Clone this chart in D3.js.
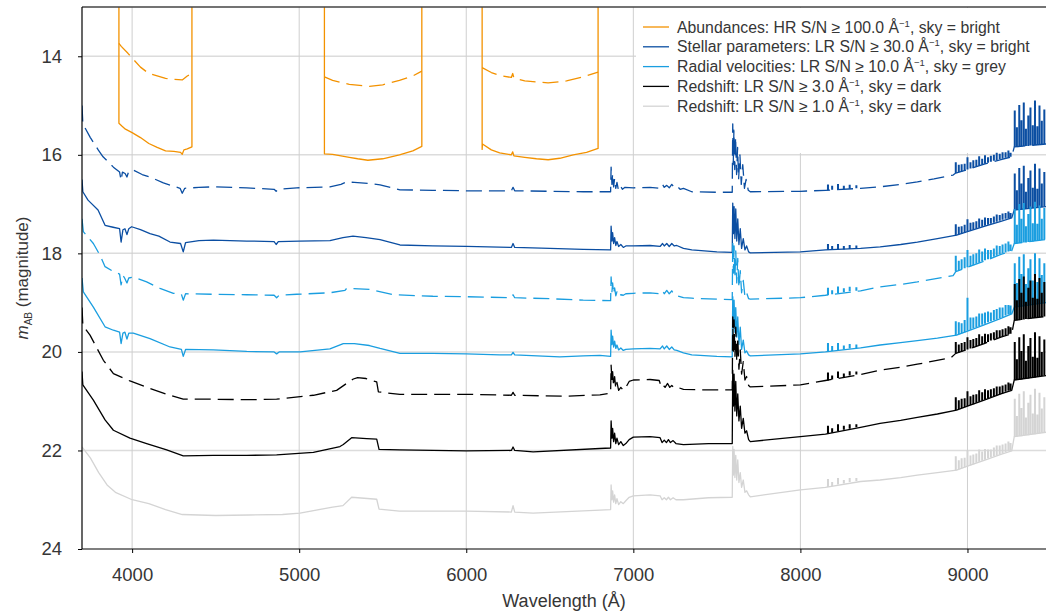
<!DOCTYPE html>
<html>
<head>
<meta charset="utf-8">
<script src="https://cdn.jsdelivr.net/npm/d3@7"></script>
<style>
  html, body { margin: 0; padding: 0; background: #fff; }
  svg { display: block; font-family: "Liberation Sans", Arial, sans-serif; }
</style>
</head>
<body>
<svg id="chart" width="1046" height="611"></svg>
<script>
// ---------------- DATA ----------------
const xTicks = [4000, 5000, 6000, 7000, 8000, 9000];
const yTicks = [14, 16, 18, 20, 22, 24];

const legendLabels = [
  ["Abundances: HR S/N \u2265 100.0 \u00C5", ", sky = bright"],
  ["Stellar parameters: LR S/N \u2265 30.0 \u00C5", ", sky = bright"],
  ["Radial velocities: LR S/N \u2265 10.0 \u00C5", ", sky = grey"],
  ["Redshift: LR S/N \u2265 3.0 \u00C5", ", sky = dark"],
  ["Redshift: LR S/N \u2265 1.0 \u00C5", ", sky = dark"]
];
const legendColors = ["#f39200", "#0b4ea2", "#1a9ee0", "#000000", "#d4d4d4"];

// Abundances (orange) – solid, three HR windows
const abundSolid = [
  [3921,12],[3921,15.36],[3940,15.42],[3960,15.48],[4000,15.55],[4050,15.65],[4100,15.77],[4150,15.85],[4200,15.92],[4250,15.93],[4290,15.95],[4300,15.99],[4310,15.9],[4330,15.88],[4358,15.84],[4358,12],
  null,
  [5151,12],[5151,15.98],[5200,15.99],[5250,16.02],[5300,16.05],[5350,16.08],[5411,16.11],[5500,16.08],[5600,16.0],[5680,15.92],[5734,15.83],[5734,12],
  null,
  [6095,12],[6095,15.89],[6097,15.78],[6150,15.9],[6200,15.96],[6270,16.0],[6278,15.94],[6285,16.02],[6350,16.05],[6420,16.08],[6490,16.1],[6560,16.07],[6640,16.0],[6720,15.95],[6789,15.87],[6789,12]
];
// Abundances (orange) – dashed
const abundDashed = [
  [3921,13.74],[3935,13.8],[3975,13.94],[4050,14.22],[4100,14.35],[4200,14.45],[4250,14.47],[4300,14.48],[4330,14.4],[4358,14.35],
  null,
  [5151,14.42],[5200,14.49],[5300,14.57],[5420,14.61],[5500,14.58],[5600,14.49],[5680,14.4],[5734,14.3],
  null,
  [6095,14.23],[6150,14.33],[6200,14.39],[6270,14.43],[6278,14.35],[6285,14.44],[6350,14.5],[6490,14.54],[6600,14.5],[6700,14.42],[6789,14.32]
];

// Stellar parameters (dark blue) – dashed: continuum, and sky-line spikes [wavelength, continuum, peak]
const stellarDashed = [
  [3700,15.0],[3705,15.37],[3750,15.65],[3797,15.9],[3826,16.04],[3888,16.25],[3925,16.35],[3934,16.52],[3942,16.35],[3958,16.38],[3969,16.45],[3980,16.33],[4007,16.31],[4060,16.4],[4107,16.45],[4187,16.57],[4287,16.68],[4300,16.78],[4315,16.68],[4400,16.66],[4486,16.65],[4686,16.67],[4850,16.7],[4862,16.74],[4875,16.7],[4985,16.67],[5184,16.65],[5250,16.6],[5284,16.55],[5330,16.56],[5420,16.58],[5484,16.61],[5603,16.71],[5800,16.72],[6000,16.73],[6270,16.73],[6280,16.66],[6290,16.73],[6500,16.74],[6700,16.75],[6864,16.75],
  [6867,16.25],[6872,16.6],[6876,16.38],[6882,16.65],[6888,16.48],[6895,16.68],[6902,16.56],[6910,16.7],[6920,16.62],[6935,16.7],[6950,16.66],[7000,16.67],[7100,16.66],[7160,16.68],[7175,16.6],[7185,16.66],[7200,16.62],[7215,16.67],[7230,16.6],[7245,16.66],[7260,16.63],[7280,16.7],[7300,16.68],[7350,16.75],[7500,16.76],[7592,16.76],
  [7595,15.37],[7598,16.2],[7602,15.5],[7607,16.3],[7612,15.64],[7618,16.4],[7624,15.85],[7630,16.5],[7638,16.0],[7646,16.6],[7655,16.2],[7665,16.68],[7675,16.5],[7688,16.72],[7700,16.75],[8000,16.74],[8150,16.72],
  [8360,16.68],[8477,16.65],[8600,16.6],[8700,16.55],[8800,16.49],[8914,16.41],[8930,16.37],[9000,16.3],[9100,16.19],[9200,16.1],[9265,16.04],[9280,15.84],[9470,15.78]
];
const stellarDashedSpikes = [
  [8165,16.72,16.6],[8190,16.71,16.63],[8225,16.7,16.59],[8260,16.7,16.63],[8295,16.69,16.61],[8335,16.68,16.62],
  [8930,16.37,16.15],[8948,16.35,16.2],[8965,16.34,16.19],[8983,16.32,16.18],[9000,16.3,16.05],[9018,16.28,16.15],[9035,16.26,16.11],[9053,16.24,16.1],[9070,16.22,16.03],[9088,16.2,16.08],[9105,16.18,16.01],[9123,16.16,16.05],[9140,16.14,16.02],[9158,16.12,16.0],[9175,16.11,15.96],[9193,16.09,15.98],[9210,16.08,15.95],[9228,16.06,15.95],[9245,16.05,15.91],[9258,16.04,15.96],
  [9283,15.84,15.1],[9296,15.84,15.44],[9310,15.83,14.99],[9323,15.83,15.3],[9337,15.82,14.94],[9350,15.82,15.47],[9364,15.82,15.2],[9377,15.81,15.04],[9391,15.81,15.4],[9404,15.8,14.9],[9418,15.8,15.42],[9431,15.79,15.0],[9445,15.79,15.31],[9460,15.78,15.08]
];
// Stellar parameters (dark blue) – solid
const stellarSolid = [
  [3700,16.5],[3705,16.75],[3736,16.92],[3796,17.12],[3838,17.43],[3886,17.47],[3925,17.5],[3934,17.77],[3945,17.52],[3957,17.5],[3969,17.62],[3980,17.5],[3997,17.46],[4050,17.52],[4107,17.6],[4160,17.65],[4227,17.77],[4290,17.8],[4306,17.97],[4320,17.78],[4400,17.74],[4486,17.73],[4686,17.75],[4850,17.76],[4862,17.82],[4875,17.76],[5000,17.75],[5184,17.74],[5262,17.68],[5322,17.65],[5400,17.68],[5484,17.72],[5603,17.83],[5800,17.85],[6000,17.86],[6270,17.88],[6280,17.8],[6290,17.88],[6500,17.9],[6700,17.92],[6864,17.93],
  [6867,17.45],[6872,17.75],[6876,17.58],[6882,17.8],[6888,17.68],[6895,17.84],[6902,17.76],[6912,17.86],[6925,17.82],[6940,17.88],[6955,17.85],[7000,17.85],[7100,17.84],[7160,17.86],[7175,17.8],[7185,17.85],[7200,17.8],[7215,17.86],[7230,17.8],[7245,17.85],[7260,17.84],[7300,17.9],[7350,17.93],[7500,17.97],[7592,17.98],
  [7595,16.98],[7599,17.6],[7603,17.05],[7608,17.7],[7613,17.1],[7619,17.75],[7625,17.3],[7632,17.82],[7640,17.5],[7648,17.9],[7658,17.7],[7668,17.93],[7678,17.85],[7690,17.97],[7700,17.99],[8000,17.97],[8150,17.93],
  [8360,17.9],[8477,17.87],[8600,17.82],[8700,17.77],[8820,17.7],[8935,17.63],[9000,17.56],[9100,17.45],[9200,17.35],[9265,17.28],[9280,17.12],[9470,17.05]
];
const stellarSolidSpikes = [
  [8165,17.93,17.81],[8190,17.93,17.85],[8225,17.92,17.81],[8260,17.92,17.85],[8295,17.91,17.83],[8335,17.9,17.84],
  [8930,17.63,17.41],[8948,17.61,17.46],[8965,17.6,17.45],[8983,17.58,17.42],[9000,17.56,17.31],[9018,17.54,17.38],[9035,17.52,17.37],[9053,17.5,17.35],[9070,17.48,17.29],[9088,17.46,17.32],[9105,17.44,17.27],[9123,17.42,17.28],[9140,17.4,17.28],[9158,17.38,17.25],[9175,17.36,17.21],[9193,17.34,17.22],[9210,17.32,17.19],[9228,17.3,17.18],[9245,17.29,17.15],[9258,17.28,17.18],
  [9283,17.12,16.38],[9296,17.12,16.72],[9310,17.11,16.27],[9323,17.11,16.58],[9337,17.1,16.22],[9350,17.1,16.75],[9364,17.09,16.47],[9377,17.09,16.32],[9391,17.08,16.67],[9404,17.08,16.18],[9418,17.07,16.69],[9431,17.07,16.28],[9445,17.06,16.58],[9460,17.05,16.35]
];
// Radial velocities (light blue) – dashed
const radialDashed = [
  [3700,17.3],[3708,17.56],[3768,17.8],[3808,18.04],[3838,18.27],[3888,18.37],[3925,18.42],[3934,18.64],[3945,18.45],[3955,18.5],[3969,18.6],[3980,18.5],[4007,18.48],[4087,18.58],[4167,18.71],[4247,18.81],[4295,18.83],[4306,18.95],[4320,18.82],[4486,18.83],[4686,18.84],[4850,18.85],[4865,18.9],[4880,18.85],[4985,18.83],[5184,18.8],[5274,18.75],[5284,18.71],[5424,18.73],[5564,18.84],[5800,18.87],[6000,18.88],[6270,18.9],[6280,18.84],[6290,18.9],[6500,18.92],[6700,18.95],[6864,18.96],
  [6867,18.48],[6872,18.78],[6876,18.6],[6882,18.82],[6888,18.7],[6895,18.86],[6902,18.78],[6912,18.88],[6925,18.84],[6940,18.85],[6955,18.82],[7000,18.81],[7100,18.8],[7160,18.82],[7175,18.76],[7185,18.82],[7200,18.75],[7215,18.82],[7230,18.76],[7245,18.84],[7260,18.86],[7300,18.9],[7350,18.91],[7500,18.93],[7592,18.94],
  [7595,17.75],[7599,18.4],[7603,17.85],[7608,18.5],[7613,17.95],[7619,18.6],[7625,18.1],[7632,18.7],[7640,18.35],[7648,18.8],[7658,18.55],[7668,18.88],[7678,18.8],[7690,18.92],[7700,18.93],[8000,18.9],[8150,18.85],
  [8360,18.76],[8477,18.68],[8600,18.63],[8700,18.58],[8914,18.45],[8930,18.37],[9000,18.28],[9100,18.16],[9200,18.02],[9265,17.95],[9280,17.8],[9470,17.72]
];
const radialDashedSpikes = [
  [8165,18.85,18.7],[8190,18.83,18.75],[8225,18.81,18.67],[8260,18.79,18.71],[8295,18.77,18.68],[8335,18.76,18.69],
  [8930,18.37,18.05],[8948,18.35,18.15],[8965,18.33,18.12],[8983,18.3,18.08],[9000,18.28,17.93],[9018,18.26,18.05],[9035,18.24,18.02],[9053,18.21,18.0],[9070,18.19,17.92],[9088,18.16,17.96],[9105,18.14,17.9],[9123,18.12,17.93],[9140,18.1,17.93],[9158,18.07,17.9],[9175,18.05,17.84],[9193,18.02,17.85],[9210,18.0,17.82],[9228,17.98,17.8],[9245,17.96,17.76],[9258,17.95,17.82],
  [9283,17.8,17.1],[9296,17.8,17.42],[9310,17.79,17.0],[9323,17.79,17.3],[9337,17.78,16.98],[9350,17.78,17.45],[9364,17.77,17.2],[9377,17.76,17.05],[9391,17.76,17.39],[9404,17.75,16.95],[9418,17.74,17.4],[9431,17.74,17.03],[9445,17.73,17.3],[9460,17.72,17.08]
];
// Radial velocities (light blue) – solid
const radialSolid = [
  [3700,18.5],[3708,18.78],[3768,19.09],[3838,19.49],[3888,19.56],[3925,19.6],[3934,19.83],[3945,19.62],[3957,19.6],[3969,19.74],[3980,19.62],[4007,19.62],[4107,19.73],[4227,19.9],[4295,19.95],[4306,20.09],[4320,19.95],[4486,19.96],[4686,19.99],[4850,20.0],[4865,20.04],[4880,20.0],[5005,20.0],[5184,19.94],[5264,19.83],[5330,19.83],[5420,19.87],[5484,19.93],[5603,20.03],[5800,20.03],[6000,20.04],[6200,20.06],[6270,20.06],[6280,20.01],[6290,20.06],[6560,20.1],[6700,20.08],[6800,20.07],[6864,20.09],
  [6867,19.56],[6872,19.85],[6876,19.68],[6882,19.9],[6888,19.78],[6895,19.93],[6902,19.86],[6912,19.96],[6925,19.92],[6940,19.97],[6955,19.95],[7000,19.94],[7100,19.93],[7160,19.94],[7175,19.88],[7185,19.94],[7200,19.88],[7215,19.95],[7230,19.9],[7245,19.96],[7260,19.97],[7300,20.02],[7350,20.06],[7500,20.09],[7592,20.1],
  [7595,18.88],[7599,19.5],[7603,18.95],[7608,19.6],[7613,19.1],[7619,19.7],[7625,19.29],[7632,19.85],[7640,19.5],[7648,19.95],[7658,19.76],[7668,20.02],[7678,19.98],[7690,20.06],[7700,20.08],[8000,20.04],[8150,20.0],
  [8360,19.92],[8477,19.86],[8600,19.81],[8700,19.77],[8820,19.72],[8935,19.66],[9000,19.58],[9100,19.45],[9200,19.32],[9265,19.23],[9280,19.09],[9470,19.0]
];
const radialSolidSpikes = [
  [8165,20.0,19.82],[8190,19.98,19.88],[8225,19.97,19.82],[8260,19.95,19.87],[8295,19.93,19.84],[8335,19.92,19.85],
  [8930,19.66,19.38],[8948,19.64,19.4],[8965,19.62,19.42],[8983,19.6,19.35],[9000,19.57,18.9],[9018,19.55,19.3],[9035,19.52,19.3],[9053,19.5,19.28],[9070,19.48,19.22],[9088,19.45,19.22],[9105,19.43,19.2],[9123,19.4,19.18],[9140,19.38,19.2],[9158,19.36,19.15],[9175,19.34,19.13],[9193,19.31,19.1],[9210,19.29,19.1],[9228,19.26,19.05],[9245,19.24,19.05],[9258,19.23,19.06],
  [9283,19.09,18.2],[9296,19.09,18.6],[9310,19.08,18.07],[9323,19.08,18.42],[9337,19.07,18.02],[9350,19.06,18.62],[9364,19.06,18.3],[9377,19.05,18.12],[9391,19.04,18.55],[9404,19.04,18.0],[9418,19.03,18.58],[9431,19.02,18.1],[9445,19.01,18.44],[9460,19.0,18.2]
];
// Redshift S/N 3 (black) – dashed
const z3Dashed = [
  [3700,19.1],[3705,19.46],[3748,19.66],[3828,20.17],[3888,20.44],[3987,20.59],[4107,20.74],[4207,20.86],[4306,20.96],[4486,20.96],[4686,20.97],[4865,20.96],[5085,20.88],[5224,20.78],[5284,20.64],[5324,20.55],[5350,20.52],[5400,20.54],[5464,20.61],[5474,20.81],[5520,20.83],[5603,20.86],[6003,20.86],[6270,20.88],[6280,20.82],[6290,20.88],[6600,20.9],[6800,20.87],[6864,20.84],
  [6867,20.27],[6872,20.6],[6876,20.4],[6882,20.7],[6888,20.5],[6895,20.75],[6902,20.62],[6912,20.78],[6925,20.72],[6940,20.78],[6955,20.72],[6975,20.6],[7000,20.57],[7100,20.56],[7155,20.58],[7168,20.72],[7180,20.68],[7190,20.72],[7205,20.64],[7218,20.72],[7230,20.68],[7245,20.73],[7265,20.72],[7300,20.76],[7400,20.77],[7592,20.77],
  [7595,19.29],[7599,20.0],[7603,19.35],[7608,20.1],[7613,19.5],[7619,20.2],[7625,19.7],[7632,20.35],[7640,19.96],[7648,20.45],[7658,20.2],[7668,20.57],[7678,20.5],[7690,20.68],[7700,20.71],[8000,20.67],[8150,20.58],
  [8360,20.46],[8477,20.37],[8600,20.31],[8700,20.25],[8900,20.12],[8930,20.03],[9000,19.95],[9100,19.83],[9200,19.7],[9265,19.63],[9280,19.36],[9470,19.28]
];
const z3DashedSpikes = [
  [8165,20.58,20.42],[8190,20.56,20.48],[8225,20.53,20.4],[8260,20.51,20.44],[8295,20.48,20.39],[8335,20.46,20.4],
  [8930,20.03,19.8],[8948,20.01,19.85],[8965,19.99,19.82],[8983,19.97,19.8],[9000,19.95,19.7],[9018,19.93,19.76],[9035,19.91,19.74],[9053,19.88,19.72],[9070,19.86,19.64],[9088,19.84,19.68],[9105,19.82,19.63],[9123,19.8,19.64],[9140,19.77,19.62],[9158,19.75,19.6],[9175,19.73,19.56],[9193,19.71,19.56],[9210,19.69,19.54],[9228,19.66,19.52],[9245,19.64,19.48],[9258,19.63,19.5],
  [9283,19.36,18.62],[9296,19.36,18.95],[9310,19.35,18.52],[9323,19.35,18.8],[9337,19.34,18.47],[9350,19.33,18.98],[9364,19.33,18.7],[9377,19.32,18.55],[9391,19.31,18.9],[9404,19.31,18.42],[9418,19.3,18.92],[9431,19.29,18.5],[9445,19.29,18.8],[9460,19.28,18.58]
];
// Redshift S/N 3 (black) – solid
const z3Solid = [
  [3700,20.4],[3705,20.67],[3768,20.98],[3838,21.38],[3888,21.59],[3987,21.75],[4087,21.86],[4207,21.99],[4306,22.11],[4486,22.1],[4686,22.1],[4865,22.09],[5085,22.04],[5244,21.92],[5264,21.88],[5314,21.74],[5404,21.76],[5464,21.77],[5478,21.98],[5603,21.99],[6000,22.01],[6270,22.0],[6280,21.93],[6290,22.0],[6400,22.03],[6800,21.96],[6864,21.95],
  [6867,21.4],[6872,21.75],[6876,21.55],[6882,21.82],[6888,21.65],[6895,21.86],[6902,21.75],[6912,21.88],[6925,21.82],[6940,21.9],[6955,21.86],[6975,21.78],[7000,21.73],[7100,21.72],[7160,21.74],[7172,21.84],[7185,21.79],[7198,21.84],[7210,21.78],[7222,21.84],[7238,21.8],[7255,21.86],[7300,21.88],[7450,21.86],[7592,21.86],
  [7595,20.37],[7599,21.1],[7603,20.45],[7608,21.2],[7613,20.6],[7619,21.3],[7625,20.85],[7632,21.4],[7640,21.1],[7648,21.55],[7658,21.35],[7668,21.65],[7678,21.6],[7690,21.78],[7700,21.82],[8000,21.72],[8150,21.67],
  [8360,21.53],[8477,21.45],[8600,21.39],[8700,21.33],[8820,21.26],[8935,21.18],[9000,21.1],[9100,20.98],[9200,20.85],[9265,20.78],[9280,20.57],[9470,20.48]
];
const z3SolidSpikes = [
  [8165,21.66,21.5],[8190,21.64,21.55],[8225,21.61,21.47],[8260,21.58,21.5],[8295,21.56,21.47],[8335,21.53,21.47],
  [8930,21.18,20.92],[8948,21.16,20.98],[8965,21.14,20.95],[8983,21.12,20.94],[9000,21.1,20.8],[9018,21.08,20.9],[9035,21.06,20.87],[9053,21.03,20.86],[9070,21.01,20.78],[9088,20.99,20.82],[9105,20.97,20.76],[9123,20.95,20.78],[9140,20.92,20.76],[9158,20.9,20.74],[9175,20.88,20.7],[9193,20.86,20.7],[9210,20.84,20.68],[9228,20.81,20.66],[9245,20.79,20.62],[9258,20.78,20.64],
  [9283,20.57,19.8],[9296,20.57,20.15],[9310,20.56,19.7],[9323,20.56,19.98],[9337,20.55,19.64],[9350,20.54,20.18],[9364,20.54,19.88],[9377,20.53,19.72],[9391,20.52,20.1],[9404,20.52,19.6],[9418,20.51,20.12],[9431,20.5,19.68],[9445,20.49,20.0],[9460,20.48,19.75]
];
// Redshift S/N 1 (light grey) – solid
const z1Solid = [
  [3700,21.93],[3750,22.15],[3800,22.45],[3850,22.7],[3900,22.85],[4000,23.0],[4100,23.08],[4200,23.2],[4300,23.3],[4500,23.32],[4700,23.31],[4900,23.3],[5005,23.27],[5200,23.15],[5262,23.12],[5314,22.95],[5464,22.99],[5478,23.19],[5600,23.23],[6000,23.23],[6270,23.25],[6280,23.12],[6290,23.25],[6400,23.27],[6800,23.21],[6864,23.2],
  [6867,22.7],[6872,23.0],[6876,22.82],[6882,23.05],[6888,22.9],[6895,23.08],[6902,22.98],[6912,23.1],[6925,23.04],[6940,23.08],[6955,23.02],[6975,22.95],[7000,22.92],[7100,22.9],[7160,22.92],[7172,23.0],[7185,22.96],[7198,23.0],[7210,22.95],[7222,23.0],[7238,22.96],[7255,23.0],[7300,23.0],[7450,22.96],[7592,22.95],
  [7595,21.92],[7599,22.5],[7603,21.98],[7608,22.55],[7613,22.1],[7619,22.6],[7625,22.19],[7632,22.65],[7640,22.45],[7648,22.75],[7658,22.6],[7668,22.85],[7678,22.82],[7690,22.9],[7700,22.94],[8000,22.8],[8150,22.75],
  [8360,22.63],[8477,22.6],[8600,22.55],[8700,22.5],[8820,22.45],[8935,22.4],[9000,22.32],[9100,22.2],[9200,22.08],[9265,22.01],[9280,21.72],[9470,21.63]
];
const z1SolidSpikes = [
  [8165,22.74,22.58],[8190,22.72,22.64],[8225,22.69,22.56],[8260,22.67,22.6],[8295,22.64,22.56],[8335,22.62,22.56],
  [8930,22.4,22.12],[8948,22.38,22.2],[8965,22.36,22.16],[8983,22.34,22.15],[9000,22.32,22.0],[9018,22.3,22.1],[9035,22.28,22.08],[9053,22.25,22.06],[9070,22.23,21.98],[9088,22.21,22.02],[9105,22.19,21.97],[9123,22.16,21.98],[9140,22.14,21.98],[9158,22.12,21.94],[9175,22.1,21.9],[9193,22.08,21.9],[9210,22.06,21.88],[9228,22.03,21.86],[9245,22.01,21.82],[9258,22.0,21.85],
  [9283,21.72,20.95],[9296,21.72,21.3],[9310,21.71,20.85],[9323,21.71,21.14],[9337,21.7,20.8],[9350,21.69,21.33],[9364,21.69,21.03],[9377,21.68,20.87],[9391,21.67,21.25],[9404,21.67,20.75],[9418,21.66,21.27],[9431,21.65,20.83],[9445,21.64,21.15],[9460,21.63,20.92]
];

// ---------------- CHART ----------------
const M = { left: 82, right: 1046, top: 7, bottom: 549 };
const x = d3.scaleLinear().domain([3700, 9470]).range([M.left, M.right]);
const y = d3.scaleLinear().domain([13, 24]).range([M.top, M.bottom]);

const svg = d3.select("#chart");
const textColor = "#363636";
const font = '"Liberation Sans", Arial, sans-serif';

svg.append("defs").append("clipPath").attr("id", "plotclip")
  .append("rect").attr("x", M.left).attr("y", M.top)
  .attr("width", M.right - M.left).attr("height", M.bottom - M.top);

// grid
const grid = svg.append("g");
grid.selectAll("line.h").data(yTicks.filter(t => t < 24)).join("line")
  .attr("x1", M.left).attr("x2", M.right)
  .attr("y1", d => y(d)).attr("y2", d => y(d))
  .attr("stroke", "#dcdcdc").attr("stroke-width", 1.5);
grid.selectAll("line.v").data(xTicks).join("line")
  .attr("x1", d => x(d)).attr("x2", d => x(d))
  .attr("y1", M.top).attr("y2", M.bottom)
  .attr("stroke", "#cfcfcf").attr("stroke-width", 1);

// legend background (covers grid)
svg.append("rect").attr("x", 636).attr("y", M.top + 1).attr("width", M.right - 636).attr("height", 145)
  .attr("fill", "#fff");

// series
const line = d3.line().defined(d => d !== null).x(d => x(d[0])).y(d => y(d[1]));
const spikePath = arr => arr.map(d => `M${x(d[0])},${y(d[1])}V${y(d[2])}`).join("");
const DASH = "16,7";
const series = [
  { data: abundSolid, color: legendColors[0], dash: null },
  { data: abundDashed, color: legendColors[0], dash: DASH },
  { data: stellarDashed, spikes: stellarDashedSpikes, color: legendColors[1], dash: DASH },
  { data: stellarSolid, spikes: stellarSolidSpikes, color: legendColors[1], dash: null },
  { data: radialDashed, spikes: radialDashedSpikes, color: legendColors[2], dash: DASH },
  { data: radialSolid, spikes: radialSolidSpikes, color: legendColors[2], dash: null },
  { data: z3Dashed, spikes: z3DashedSpikes, color: legendColors[3], dash: DASH },
  { data: z3Solid, spikes: z3SolidSpikes, color: legendColors[3], dash: null },
  { data: z1Solid, spikes: z1SolidSpikes, color: legendColors[4], dash: null }
];
const plot = svg.append("g").attr("clip-path", "url(#plotclip)");
series.forEach(s => {
  plot.append("path").attr("d", line(s.data))
    .attr("fill", "none").attr("stroke", s.color).attr("stroke-width", 1.3)
    .attr("stroke-linejoin", "round")
    .attr("stroke-dasharray", s.dash);
  if (s.spikes) {
    plot.append("path").attr("d", spikePath(s.spikes))
      .attr("fill", "none").attr("stroke", s.color).attr("stroke-width", 2);
  }
});

// spines
svg.append("line").attr("x1", M.left).attr("x2", M.right).attr("y1", M.top).attr("y2", M.top)
  .attr("stroke", "#444").attr("stroke-width", 1.5);
svg.append("line").attr("x1", M.left).attr("x2", M.left).attr("y1", M.top).attr("y2", M.bottom)
  .attr("stroke", "#000").attr("stroke-width", 1.2);
svg.append("line").attr("x1", M.left).attr("x2", M.right).attr("y1", M.bottom).attr("y2", M.bottom)
  .attr("stroke", "#000").attr("stroke-width", 1.2);

// axes
const xAxis = svg.append("g").attr("transform", `translate(0,${M.bottom})`)
  .call(d3.axisBottom(x).tickValues(xTicks).tickSize(4).tickPadding(15).tickFormat(d3.format("d")));
const yAxis = svg.append("g").attr("transform", `translate(${M.left},0)`)
  .call(d3.axisLeft(y).tickValues(yTicks).tickSize(4).tickPadding(16).tickFormat(d3.format("d")));
[xAxis, yAxis].forEach(a => {
  a.select(".domain").remove();
  a.selectAll(".tick line").attr("stroke", "#000");
  a.selectAll(".tick text").attr("fill", textColor)
    .style("font-family", font).style("font-size", "18.5px");
});

// axis titles
svg.append("text").attr("x", (M.left + M.right) / 2).attr("y", 607)
  .attr("text-anchor", "middle").attr("fill", textColor).style("font-size", "18px")
  .text("Wavelength (\u00C5)");

const yl = svg.append("text")
  .attr("transform", `translate(28,${(M.top + M.bottom) / 2}) rotate(-90)`)
  .attr("text-anchor", "middle").attr("fill", textColor).style("font-size", "17px");
yl.append("tspan").style("font-style", "italic").text("m");
yl.append("tspan").attr("dy", 4).style("font-size", "10px").text("AB");
yl.append("tspan").attr("dy", -4).text(" (magnitude)");

// legend
const lg = svg.append("g");
legendLabels.forEach((lab, i) => {
  const yy = 27 + i * 19.8;
  lg.append("line").attr("x1", 643).attr("x2", 669).attr("y1", yy).attr("y2", yy)
    .attr("stroke", legendColors[i]).attr("stroke-width", 1.3);
  const t = lg.append("text").attr("x", 677).attr("y", yy + 5.5).attr("fill", textColor)
    .style("font-size", "15.8px");
  t.append("tspan").text(lab[0]);
  t.append("tspan").attr("dy", -6).style("font-size", "9.5px").text("\u22121");
  t.append("tspan").attr("dy", 6).text(lab[1]);
});
</script>
</body>
</html>
